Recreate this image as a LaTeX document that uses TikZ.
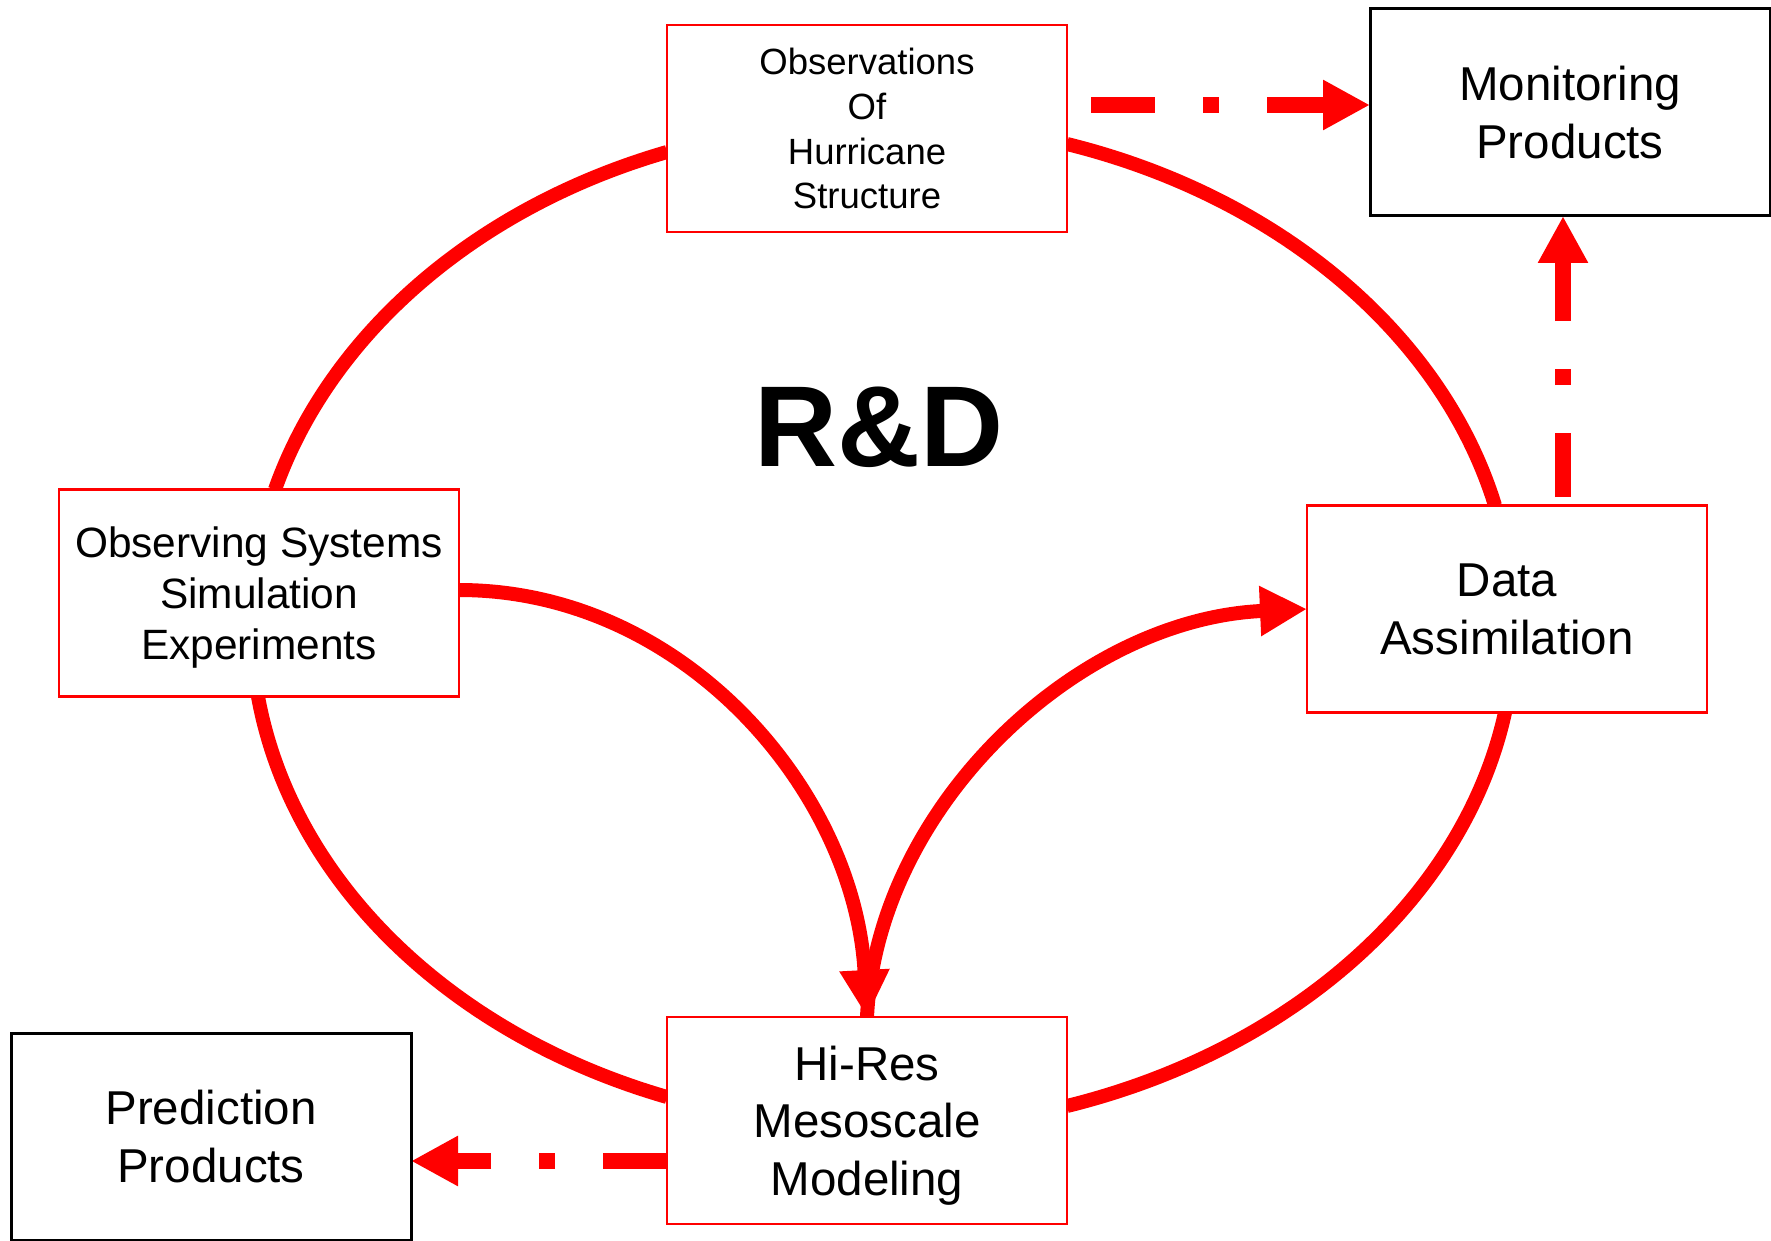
\documentclass[tikz,border=0pt]{standalone}
\usepackage{fontspec}
\setmainfont{Liberation Sans}
\usetikzlibrary{arrows.meta,calc,backgrounds}
\begin{document}
\begin{tikzpicture}[x=1pt,y=-1pt,
  redbox/.style={draw=red, line width=2.5pt, fill=white, minimum width=400pt,
    minimum height=207pt, align=center, outer sep=0pt, inner sep=0pt, text depth=0pt},
  blackbox/.style={redbox, draw=black, line width=3pt},
  bigtext/.style={font=\fontsize{47.5}{57.6}\selectfont},
  ringline/.style={draw=red, line width=14pt},
  curvearrow/.style={ringline, -{Triangle[length=47pt,width=47pt]}},
  dasharrow/.style={draw=red, line width=16pt,
    dash pattern=on 64pt off 48pt on 16pt off 48pt,
    -{Triangle[length=47pt,width=47pt]}}]
\useasboundingbox (0,0) rectangle (1771,1241);

% boxes
\node[redbox, font=\fontsize{36.5}{44.8}\selectfont] (obs) at (867,128.5)
  {Observations\\Of\\Hurricane\\Structure};
\node[blackbox, bigtext] (mon) at (1570,112.5) {Monitoring\\Products};
\node[redbox, font=\fontsize{42.4}{50.8}\selectfont] (oss) at (259,593)
  {Observing Systems\\Simulation\\Experiments};
\node[redbox, bigtext] (da) at (1507,609) {Data\\Assimilation};
\node[redbox, bigtext] (hires) at (867,1120.5) {Hi-Res\\Mesoscale\\Modeling};
\node[blackbox, bigtext] (pred) at (211,1136.5) {Prediction\\Products};
\node[font=\bfseries\fontsize{115}{130}\selectfont] (rd) at (879,427.5) {R\&D};

% connector end points
\coordinate (a1) at ($(obs.west)+(0,23.5)$);
\coordinate (b1) at ($(oss.north)+(16,0)$);
\coordinate (a2) at ($(obs.east)+(0,15.5)$);
\coordinate (b2) at ($(da.north)+(-12,0)$);
\coordinate (a3) at ($(oss.south)+(-1,0)$);
\coordinate (b3) at ($(hires.west)+(0,-23.5)$);
\coordinate (a4) at ($(da.south)+(-2,0)$);
\coordinate (b4) at ($(hires.east)+(0,-14.5)$);
\coordinate (a5) at ($(oss.east)+(0,-3)$);
\coordinate (s1) at ($(obs.east)+(24,-23.5)$);
\coordinate (s2) at ($(da.north)+(56,-8.5)$);
\coordinate (s3) at ($(hires.west)+(0,40.5)$);

\begin{scope}[on background layer]
  \fill[white] (0,0) rectangle (1771,1241);
  % outer ring
  \draw[ringline] (a1) .. controls ($(a1)+(-190.7,55.1)$) and ($(b1)+(55.2,-155.8)$) .. (b1);
  \draw[ringline] (a2) .. controls ($(a2)+(211.3,52.2)$) and ($(b2)+(-52.8,-171.5)$) .. (b2);
  \draw[ringline] (a3) .. controls ($(a3)+(33.5,183.4)$) and ($(b3)+(-218.3,-63.1)$) .. (b3);
  \draw[ringline] (a4) .. controls ($(a4)+(-41,185.7)$) and ($(b4)+(225.6,-55.7)$) .. (b4);
  % inner arrows
  \draw[curvearrow] (a5) .. controls ($(a5)+(225,0)$) and ($(hires.north)+(-12,-225)$) .. (hires.north);
  \draw[curvearrow] (hires.north) .. controls ($(hires.north)+(10,-210)$) and ($(da.west)+(-230,10)$) .. (da.west);
  % dashed arrows
  \draw[dasharrow] (s1) -- (s1 -| mon.west);
  \draw[dasharrow] (s2) -- (s2 |- mon.south);
  \draw[dasharrow] (s3) -- (s3 -| pred.east);
\end{scope}
\end{tikzpicture}
\end{document}
